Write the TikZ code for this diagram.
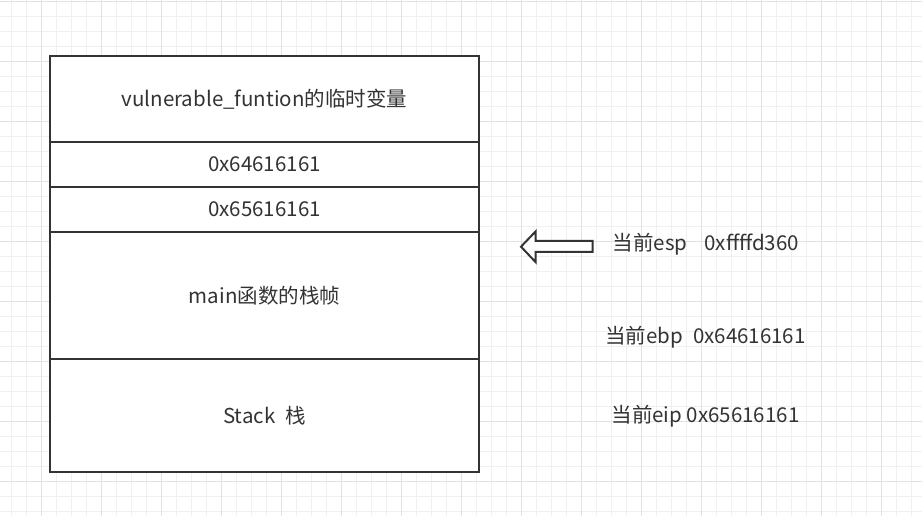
\documentclass[tikz,border=0pt]{standalone}
\usepackage{fontspec}
\setmainfont{Noto Sans CJK SC}
\definecolor{ink}{HTML}{333333}
\definecolor{gridminor}{HTML}{F0F0F0}
\definecolor{gridmajor}{HTML}{E2E2E2}
\tikzset{
  rowbox/.style={draw=ink, line width=2pt, fill=white, minimum width=429pt, inner sep=0pt, text=ink, font=\fontsize{20.5pt}{24pt}\selectfont},
  label/.style={text=ink, inner sep=0pt, font=\fontsize{20.5pt}{24pt}\selectfont},
  blockarrow/.style={draw=ink, line width=2pt, fill=white, line join=miter}
}
\begin{document}
\begin{tikzpicture}[x=1pt, y=-1pt]
\useasboundingbox (0,0) rectangle (922,516);
\fill[white] (0,0) rectangle (922,516);
% grid
\foreach \gx in {11.7,26.7,...,922} \draw[gridminor, line width=1pt] (\gx,0) -- (\gx,516);
\foreach \gy in {1.7,16.7,...,516} \draw[gridminor, line width=1pt] (0,\gy) -- (922,\gy);
\foreach \gx in {41.7,101.7,...,922} \draw[gridmajor, line width=1pt] (\gx,0) -- (\gx,516);
\foreach \gy in {1.7,61.7,...,516} \draw[gridmajor, line width=1pt] (0,\gy) -- (922,\gy);
% stack rows
\node[rowbox, minimum height=86pt] (r1) at (264.5,99) {vulnerable\_funtion的临时变量};
\node[rowbox, minimum height=45pt] (r2) at (264.5,164.5) {0x64616161};
\node[rowbox, minimum height=45pt] (r3) at (264.5,209.5) {0x65616161};
\node[rowbox, minimum height=127pt] (r4) at (264.5,295.5) {main函数的栈帧};
\node[rowbox, minimum height=113pt] (r5) at (264.5,415.5) {Stack\hspace{10pt}栈};
% block arrow pointing left
\draw[blockarrow] (521,246.7) -- (535.5,231.5) -- (535.5,241) -- (592.7,241) -- (592.7,252) -- (535.5,252) -- (535.5,262) -- cycle;
% register labels
\node[label] (esp) at (706,244) {当前esp\hspace{17pt}0xffffd360};
\node[label] (ebp) at (705.5,337) {当前ebp\hspace{10pt}0x64616161};
\node[label] (eip) at (705.5,416) {当前eip 0x65616161};
\end{tikzpicture}
\end{document}
